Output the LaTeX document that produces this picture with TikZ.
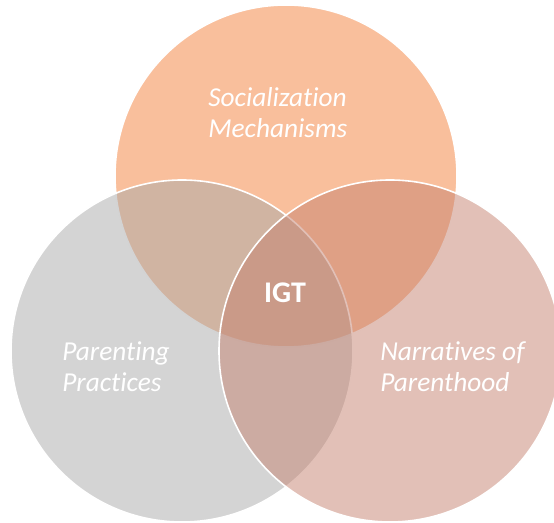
\documentclass[tikz,border=0pt]{standalone}
\usepackage{fontspec}
\setmainfont{Carlito}[Ligatures=NoCommon]

\definecolor{socialOrange}{RGB}{243,127,57}
\definecolor{parentGray}{RGB}{169,169,169}
\definecolor{narrRose}{RGB}{197,130,112}

\tikzset{
  venn/.style={draw=white, line width=1.2pt, fill opacity=0.5},
  venntext/.style={text=white, inner sep=0.75pt, align=left, font=\fontsize{20.5}{23.5}\selectfont\itshape},
}

\begin{document}
\begin{tikzpicture}[x=0.75pt,y=0.75pt,yscale=-1,xscale=1]
\path[use as bounding box] (0,0) rectangle (554,523);
\clip (0,0) rectangle (554,523);

%Shape: Circle [socialization]
\draw [venn, fill=socialOrange] (286,176) circle [radius=171];
%Shape: Circle [parenting]
\draw [venn, fill=parentGray] (182,351) circle [radius=171];
%Shape: Circle [narratives]
\draw [venn, fill=narrRose] (390,351) circle [radius=171];

% Text Node
\node (social) [venntext, anchor=north west] at (207,86) {Socialization\\Mechanisms};
% Text Node
\node (parenting) [venntext, anchor=north west] at (61,340) {Parenting\\Practices};
% Text Node
\node (narratives) [venntext, anchor=north west] at (379,340) {Narratives of\\Parenthood};
% Text Node
\node (igt) [text=white, font=\fontsize{22.5}{26}\selectfont\bfseries] at (285,293) {IGT};

\end{tikzpicture}
\end{document}
